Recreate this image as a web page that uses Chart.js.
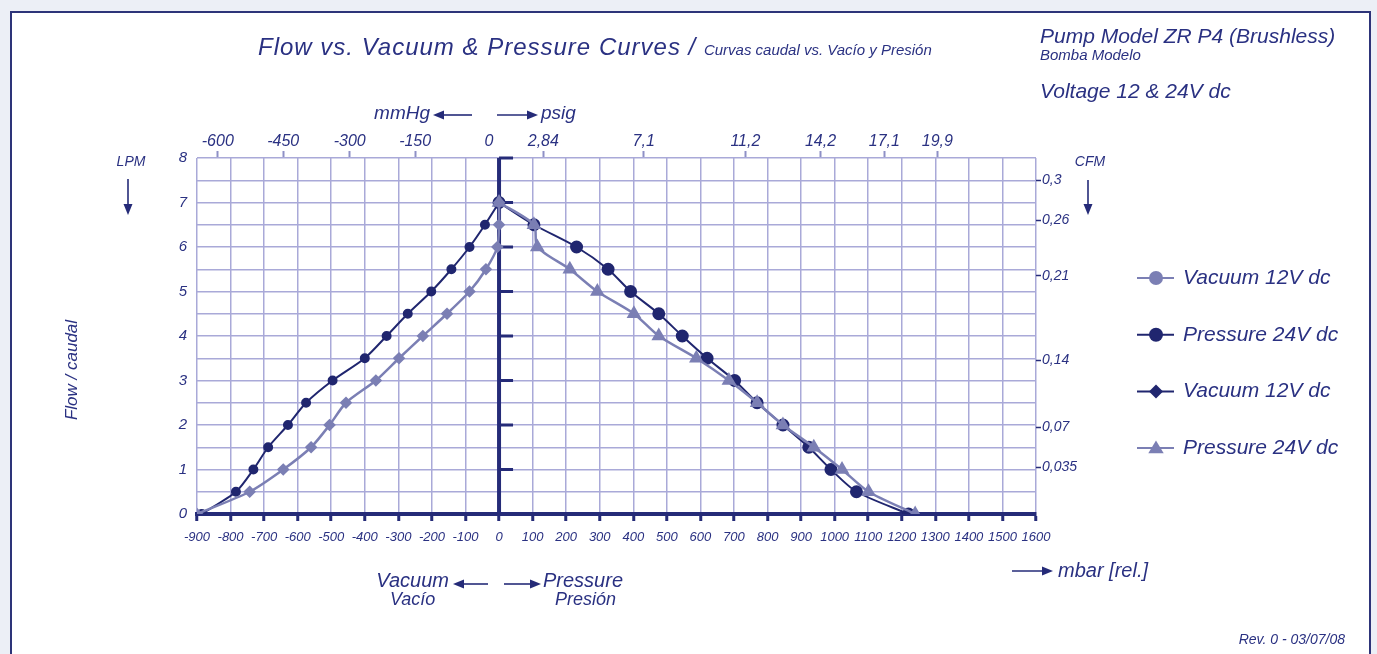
<!DOCTYPE html>
<html>
<head>
<meta charset="utf-8">
<script src="https://cdn.jsdelivr.net/npm/chart.js@4.4.0/dist/chart.umd.min.js"></script>
<style>
  html, body { margin: 0; padding: 0; background: #eceff6; }
  #wrap { position: relative; width: 1377px; height: 654px; }
</style>
</head>
<body>
<div id="wrap"><canvas id="pumpChart" width="1377" height="654"></canvas></div>
<script>
// flow (LPM) levels shared by all four curves
const flowLevels = [0, 0.5, 1, 1.5, 2, 2.5, 3, 3.5, 4, 4.5, 5, 5.5, 6, 6.5, 7];

// mbar [rel.] read for each flow level
const vacuum12Light = [-900, -743, -643, -560, -505, -456, -367, -298, -227, -155, -88, -39, -5, 0, 0];
const vacuum12Dark = [-886, -784, -732, -688, -629, -575, -496, -400, -335, -272, -202, -142, -88, -42, 0];
const pressure24Dark = [1220, 1065, 989, 923, 846, 769, 702, 620, 546, 476, 392, 325, 231, 104, 0];
const pressure24Light = [1240, 1101, 1022, 938, 846, 769, 685, 588, 476, 402, 293, 211, 114, 104, 0];

const seriesLabels = ['Vacuum 12V dc', 'Pressure 24V dc', 'Vacuum 12V dc', 'Pressure 24V dc'];
const legendStyles = ['circle', 'circle', 'rectRot', 'triangle'];

// top axis: mmHg (left) and psig (right), placed on the mbar scale
const topTickPos = [-838, -643, -445, -250, -30, 132, 431, 734, 958, 1148, 1306];
const topTickLabels = ['-600', '-450', '-300', '-150', '0', '2,84', '7,1', '11,2', '14,2', '17,1', '19,9'];

// right axis: CFM, placed on the LPM scale
const cfmTickPos = [7.5, 6.6, 5.35, 3.45, 1.95, 1.05];
const cfmTickLabels = ['0,3', '0,26', '0,21', '0,14', '0,07', '0,035'];

const navy = '#252b78';
const darkSeries = '#20266f';
const lightSeries = '#7b7fb4';
const gridColor = '#a9a9d8';
const textColor = '#2a3182';
const sans = '"Liberation Sans", Arial, sans-serif';

Chart.defaults.font.family = sans;
Chart.defaults.color = textColor;

const toPoints = (xs) => xs.map((x, i) => ({ x: x, y: flowLevels[i] }));

const data = {
  datasets: [
    {
      label: seriesLabels[0],
      data: toPoints(vacuum12Light),
      borderColor: lightSeries,
      backgroundColor: lightSeries,
      borderWidth: 2.5,
      pointStyle: 'rectRot',
      pointRadius: 4.5,
      showLine: true,
      tension: 0.25,
    },
    {
      label: seriesLabels[1],
      data: toPoints(pressure24Dark),
      borderColor: darkSeries,
      backgroundColor: darkSeries,
      borderWidth: 2,
      pointStyle: 'circle',
      pointRadius: 5.5,
      showLine: true,
      tension: 0.25,
    },
    {
      label: seriesLabels[2],
      data: toPoints(vacuum12Dark),
      borderColor: darkSeries,
      backgroundColor: darkSeries,
      borderWidth: 2,
      pointStyle: 'circle',
      pointRadius: 4,
      showLine: true,
      tension: 0.25,
    },
    {
      label: seriesLabels[3],
      data: toPoints(pressure24Light),
      borderColor: lightSeries,
      backgroundColor: lightSeries,
      borderWidth: 2.5,
      pointStyle: 'triangle',
      pointRadius: 6,
      showLine: true,
      tension: 0.25,
      order: -1,
    },
  ],
};

function drawArrow(ctx, x1, y1, x2, y2) {
  const ang = Math.atan2(y2 - y1, x2 - x1);
  ctx.save();
  ctx.strokeStyle = navy;
  ctx.fillStyle = navy;
  ctx.lineWidth = 1.6;
  ctx.beginPath();
  ctx.moveTo(x1, y1);
  ctx.lineTo(x2 - 8 * Math.cos(ang), y2 - 8 * Math.sin(ang));
  ctx.stroke();
  ctx.translate(x2, y2);
  ctx.rotate(ang);
  ctx.beginPath();
  ctx.moveTo(0, 0);
  ctx.lineTo(-11, -4.5);
  ctx.lineTo(-11, 4.5);
  ctx.closePath();
  ctx.fill();
  ctx.restore();
}

function text(ctx, s, x, y, size, align) {
  ctx.font = 'italic ' + size + 'px ' + sans;
  ctx.textAlign = align || 'left';
  ctx.textBaseline = 'middle';
  ctx.fillStyle = textColor;
  ctx.fillText(s, x, y);
}

function marker(ctx, style, x, y, r) {
  ctx.beginPath();
  if (style === 'circle') {
    ctx.arc(x, y, r, 0, Math.PI * 2);
  } else if (style === 'rectRot') {
    ctx.moveTo(x, y - r);
    ctx.lineTo(x + r, y);
    ctx.lineTo(x, y + r);
    ctx.lineTo(x - r, y);
  } else {
    ctx.moveTo(x, y - r * 1.1);
    ctx.lineTo(x + r * 1.1, y + r * 0.75);
    ctx.lineTo(x - r * 1.1, y + r * 0.75);
  }
  ctx.closePath();
  ctx.fill();
}

const pagePlugin = {
  id: 'page',
  beforeDraw(chart) {
    const ctx = chart.ctx;
    ctx.save();
    ctx.fillStyle = '#eceff6';
    ctx.fillRect(0, 0, chart.width, chart.height);
    ctx.fillStyle = '#ffffff';
    ctx.fillRect(11, 12, 1359, 660);
    ctx.strokeStyle = '#2d3479';
    ctx.lineWidth = 2;
    ctx.strokeRect(11, 12, 1359, 660);
    ctx.restore();
  },
};

// bold zero line between vacuum and pressure, with its flow ticks
const zeroAxisPlugin = {
  id: 'zeroAxis',
  beforeDatasetsDraw(chart) {
    const { ctx, scales } = chart;
    const x0 = scales.x.getPixelForValue(0);
    ctx.save();
    ctx.strokeStyle = navy;
    ctx.lineWidth = 4;
    ctx.beginPath();
    ctx.moveTo(x0, scales.y.getPixelForValue(8));
    ctx.lineTo(x0, scales.y.getPixelForValue(0));
    ctx.stroke();
    ctx.lineWidth = 3;
    for (let v = 1; v <= 8; v++) {
      const py = scales.y.getPixelForValue(v);
      ctx.beginPath();
      ctx.moveTo(x0, py);
      ctx.lineTo(x0 + 14, py);
      ctx.stroke();
    }
    ctx.restore();
  },
};

const notesPlugin = {
  id: 'notes',
  afterDraw(chart) {
    const ctx = chart.ctx;
    ctx.save();

    // title, two sizes on one baseline
    ctx.textBaseline = 'alphabetic';
    ctx.textAlign = 'left';
    ctx.fillStyle = textColor;
    ctx.font = 'italic 24px ' + sans;
    ctx.letterSpacing = '1px';
    const part1 = 'Flow vs. Vacuum & Pressure Curves / ';
    ctx.fillText(part1, 258, 55);
    const w1 = ctx.measureText(part1).width;
    ctx.letterSpacing = '0px';
    ctx.font = 'italic 15px ' + sans;
    ctx.fillText('Curvas caudal vs. Vacío y Presión', 258 + w1, 55);

    text(ctx, 'Pump Model ZR P4 (Brushless)', 1040, 37, 21);
    text(ctx, 'Bomba Modelo', 1040, 56, 15);
    text(ctx, 'Voltage 12 & 24V dc', 1040, 92, 21);

    text(ctx, 'mmHg', 430, 114, 19, 'right');
    drawArrow(ctx, 472, 115, 433, 115);
    drawArrow(ctx, 497, 115, 538, 115);
    text(ctx, 'psig', 541, 114, 19);

    text(ctx, 'LPM', 131, 162, 14, 'center');
    drawArrow(ctx, 128, 179, 128, 215);
    text(ctx, 'CFM', 1090, 162, 14, 'center');
    drawArrow(ctx, 1088, 180, 1088, 215);

    ctx.save();
    ctx.translate(72, 370);
    ctx.rotate(-Math.PI / 2);
    text(ctx, 'Flow / caudal', 0, 0, 17, 'center');
    ctx.restore();

    text(ctx, 'Vacuum', 449, 581, 20, 'right');
    drawArrow(ctx, 488, 584, 453, 584);
    drawArrow(ctx, 504, 584, 541, 584);
    text(ctx, 'Pressure', 543, 581, 20);
    text(ctx, 'Vacío', 390, 600, 18);
    text(ctx, 'Presión', 555, 600, 18);

    drawArrow(ctx, 1012, 571, 1053, 571);
    text(ctx, 'mbar [rel.]', 1058, 571, 20);

    text(ctx, 'Rev. 0 - 03/07/08', 1345, 640, 14, 'right');

    // legend
    chart.data.datasets.forEach((ds, i) => {
      const y = 278 + i * 56.7;
      ctx.strokeStyle = ds.borderColor;
      ctx.fillStyle = ds.borderColor;
      ctx.lineWidth = 2;
      ctx.beginPath();
      ctx.moveTo(1137, y);
      ctx.lineTo(1174, y);
      ctx.stroke();
      marker(ctx, legendStyles[i], 1156, y, 7);
      text(ctx, ds.label, 1183, y, 21);
    });

    ctx.restore();
  },
};

const config = {
  type: 'scatter',
  data: data,
  options: {
    responsive: false,
    animation: false,
    layout: { padding: 0 },
    plugins: {
      legend: { display: false },
      tooltip: { enabled: false },
    },
    scales: {
      x: {
        type: 'linear',
        position: 'bottom',
        min: -900,
        max: 1600,
        afterFit: (s) => { s.height = 140; },
        ticks: {
          stepSize: 100,
          autoSkip: false,
          maxRotation: 0,
          padding: 9,
          color: textColor,
          font: { size: 13, style: 'italic' },
          callback: (v) => String(v),
        },
        grid: { color: gridColor, lineWidth: 1.5, tickLength: 7, tickColor: navy, tickWidth: 3 },
        border: { display: true, color: navy, width: 4 },
      },
      xTop: {
        type: 'linear',
        position: 'top',
        min: -900,
        max: 1600,
        afterFit: (s) => { s.height = 158; },
        afterBuildTicks: (s) => { s.ticks = topTickPos.map((v) => ({ value: v })); },
        ticks: {
          autoSkip: false,
          maxRotation: 0,
          padding: 0,
          color: textColor,
          font: { size: 16, style: 'italic' },
          callback: (v, i) => topTickLabels[i],
        },
        grid: {
          drawOnChartArea: false,
          tickLength: 7,
          tickWidth: 2,
          tickColor: (c) => (c.tick && c.tick.value === -30 ? 'rgba(0,0,0,0)' : '#8e90c6'),
        },
        border: { display: false },
      },
      y: {
        position: 'left',
        min: 0,
        max: 8,
        afterFit: (s) => { s.width = 197; },
        ticks: {
          stepSize: 0.5,
          autoSkip: false,
          padding: 10,
          color: textColor,
          font: { size: 15, style: 'italic' },
          callback: (v) => (Number.isInteger(v) ? String(v) : ''),
        },
        grid: { color: gridColor, lineWidth: 1.5, drawTicks: false },
        border: { display: false },
      },
      yRight: {
        position: 'right',
        min: 0,
        max: 8,
        afterFit: (s) => { s.width = 341; },
        afterBuildTicks: (s) => { s.ticks = cfmTickPos.map((v) => ({ value: v })); },
        ticks: {
          autoSkip: false,
          padding: 1,
          color: textColor,
          font: { size: 14, style: 'italic' },
          callback: (v, i) => cfmTickLabels[i],
        },
        grid: { drawOnChartArea: false, tickLength: 5, tickWidth: 1.5, tickColor: navy },
        border: { display: false },
      },
    },
  },
  plugins: [pagePlugin, zeroAxisPlugin, notesPlugin],
};

const ctx = document.getElementById('pumpChart').getContext('2d');
new Chart(ctx, config);
</script>
</body>
</html>
